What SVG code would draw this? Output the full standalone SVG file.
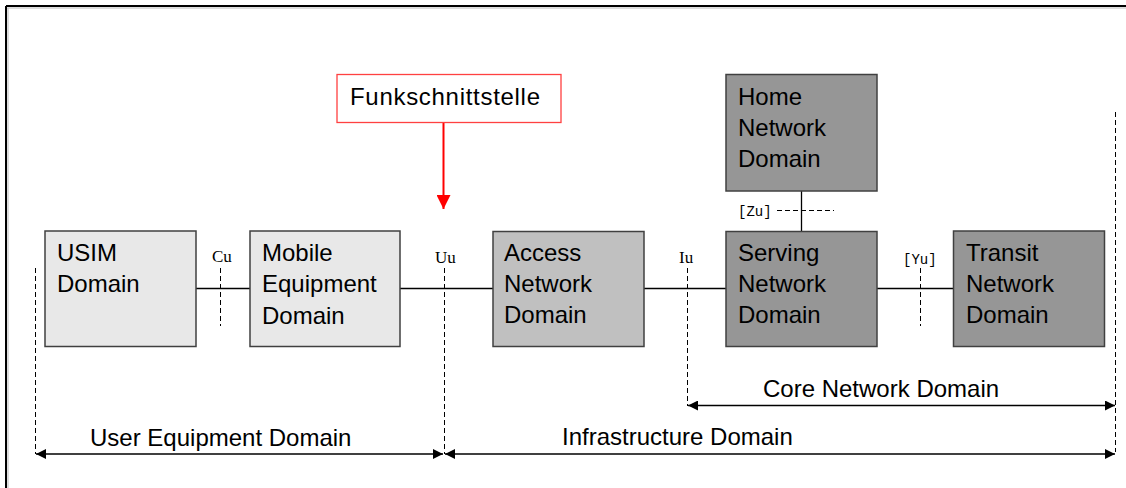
<svg xmlns="http://www.w3.org/2000/svg" width="1126" height="488" viewBox="0 0 1126 488">
<defs>
<style>
.box{stroke:#404040;stroke-width:1.5}
.t{font-family:"Liberation Sans",Arial,sans-serif;font-size:24px;fill:#000}
.lbl{font-family:"Liberation Serif","Times New Roman",serif;font-size:17px;fill:#000}
.mono{font-family:"Liberation Mono","Courier New",monospace;font-size:14px;fill:#000}
.ln{stroke:#000;stroke-width:1.3;fill:none}
.dash{stroke:#000;stroke-width:1;stroke-dasharray:5 3;fill:none}
</style>
<marker id="ah" viewBox="0 0 10 10" refX="10" refY="5" markerWidth="10" markerHeight="10" markerUnits="userSpaceOnUse" orient="auto-start-reverse">
<path d="M0,0 L10,5 L0,10 Z" fill="#000"/>
</marker>
<marker id="rah" viewBox="0 0 14 14" refX="7" refY="14" markerWidth="14" markerHeight="14" markerUnits="userSpaceOnUse" orient="0">
<path d="M0,0 L14,0 L7,14 Z" fill="#ff0000"/>
</marker>
</defs>
<rect x="0" y="0" width="1126" height="488" fill="#fff"/>
<g id="frame">
<line x1="6" y1="6" x2="1126" y2="6" stroke="#000" stroke-width="2"/>
<line x1="6" y1="6" x2="6" y2="488" stroke="#000" stroke-width="2"/>
<line x1="7" y1="8" x2="1126" y2="8" stroke="#bbb" stroke-width="1"/>
<line x1="8" y1="8" x2="8" y2="488" stroke="#bbb" stroke-width="1"/>
</g>
<g id="connectors">
<line class="ln" x1="196" y1="288.5" x2="250" y2="288.5"/>
<line class="ln" x1="400" y1="288.5" x2="493" y2="288.5"/>
<line class="ln" x1="644" y1="288.5" x2="726" y2="288.5"/>
<line class="ln" x1="877" y1="288.5" x2="953" y2="288.5"/>
<line class="ln" x1="801.5" y1="191" x2="801.5" y2="231"/>
<line class="dash" x1="777" y1="210.5" x2="834" y2="210.5"/>
<line class="dash" x1="220.5" y1="268" x2="220.5" y2="326"/>
<line class="dash" x1="920.5" y1="268" x2="920.5" y2="326"/>
<line class="dash" x1="35.5" y1="268" x2="35.5" y2="454"/>
<line class="dash" x1="444.5" y1="268" x2="444.5" y2="454"/>
<line class="dash" x1="687.5" y1="268" x2="687.5" y2="406"/>
<line class="dash" x1="1115.5" y1="112" x2="1115.5" y2="452"/>
<line class="ln" x1="36" y1="454" x2="443" y2="454" marker-start="url(#ah)" marker-end="url(#ah)"/>
<line class="ln" x1="445" y1="454" x2="1115" y2="454" marker-start="url(#ah)" marker-end="url(#ah)"/>
<line class="ln" x1="688" y1="405.5" x2="1115" y2="405.5" marker-start="url(#ah)" marker-end="url(#ah)"/>
<line x1="443.5" y1="123" x2="443.5" y2="209" stroke="#ff0000" stroke-width="2" marker-end="url(#rah)"/>
</g>
<g id="labels">
<text class="lbl" x="212" y="262">Cu</text>
<text class="lbl" x="435" y="263">Uu</text>
<text class="lbl" x="679" y="263">Iu</text>
<text class="mono" x="903" y="264">[Yu]</text>
<text class="mono" x="738" y="216">[Zu]</text>
<text class="t" x="90" y="446">User Equipment Domain</text>
<text class="t" x="562" y="445">Infrastructure Domain</text>
<text class="t" x="763" y="397">Core Network Domain</text>
</g>
<g id="funk">
<rect x="337" y="74.5" width="224" height="48" fill="#fff" stroke="#ff4040" stroke-width="1.3"/>
<text class="t" x="350" y="105" textLength="190" lengthAdjust="spacing">Funkschnittstelle</text>
</g>
<g id="usim">
<rect class="box" x="45" y="231" width="151" height="115.5" fill="#e8e8e8"/>
<text class="t" x="57" y="261">USIM</text>
<text class="t" x="57" y="292">Domain</text>
</g>
<g id="me">
<rect class="box" x="250" y="231" width="150" height="115.5" fill="#e8e8e8"/>
<text class="t" x="262" y="261">Mobile</text>
<text class="t" x="262" y="292">Equipment</text>
<text class="t" x="262" y="324">Domain</text>
</g>
<g id="access">
<rect class="box" x="493" y="231.5" width="151" height="115" fill="#c0c0c0"/>
<text class="t" x="504" y="261">Access</text>
<text class="t" x="504" y="292">Network</text>
<text class="t" x="504" y="323">Domain</text>
</g>
<g id="home">
<rect class="box" x="726" y="74.5" width="151" height="116.5" fill="#969696"/>
<text class="t" x="738" y="105">Home</text>
<text class="t" x="738" y="136">Network</text>
<text class="t" x="738" y="167">Domain</text>
</g>
<g id="serving">
<rect class="box" x="726" y="231.5" width="151" height="115" fill="#969696"/>
<text class="t" x="738" y="261">Serving</text>
<text class="t" x="738" y="292">Network</text>
<text class="t" x="738" y="323">Domain</text>
</g>
<g id="transit">
<rect class="box" x="953.5" y="231" width="151" height="115.5" fill="#969696"/>
<text class="t" x="966" y="261">Transit</text>
<text class="t" x="966" y="292">Network</text>
<text class="t" x="966" y="323">Domain</text>
</g>
</svg>
